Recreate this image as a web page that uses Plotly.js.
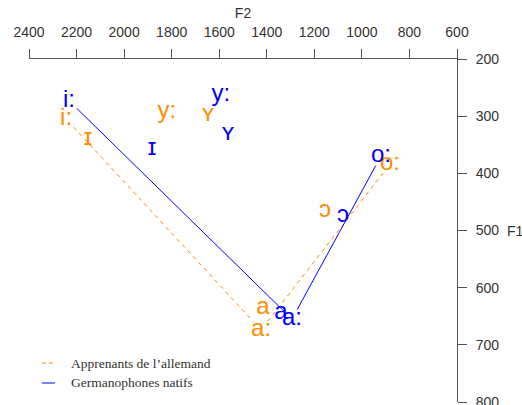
<!DOCTYPE html>
<html>
<head>
<meta charset="utf-8">
<script src="https://cdn.plot.ly/plotly-3.0.1.min.js"></script>
<style>
  html, body { margin: 0; padding: 0; background: #fff; }
  #graph { width: 522px; height: 405px; }
</style>
</head>
<body>
<div id="graph"></div>
<script>
// vowel chart, F2 on top (reversed), F1 on the right (reversed)
var vowels = ['i:', 'ɪ', 'y:', 'ʏ', 'a', 'a:', 'ɔ', 'o:'];
var learnerF2 = [2244, 2152, 1820, 1647, 1416, 1424, 1155, 882];
var learnerF1 = [305, 340, 293, 298, 636, 674, 466, 384];
var nativeF2 = [2232, 1883, 1593, 1563, 1340, 1294, 1079, 920];
var nativeF1 = [273, 357, 263, 331, 644, 655, 475, 370];
var pathVowels = ['i:', 'a:', 'o:'];
var xTicks = [2400, 2200, 2000, 1800, 1600, 1400, 1200, 1000, 800, 600];
var yTicks = [200, 300, 400, 500, 600, 700, 800];
var groupNames = ['Apprenants de l’allemand', 'Germanophones natifs'];

var W = 522, H = 405;
var margin = {l: 29, r: 65, t: 59, b: 3};
var xRange = [2400, 600], yRange = [800, 200];
var plotW = W - margin.l - margin.r, plotH = H - margin.t - margin.b;
var kx = plotW / (xRange[1] - xRange[0]);
var ky = plotH / (yRange[1] - yRange[0]);

// line through i:, a:, o: with a gap round each label (like type="b")
function gappedPath(f2, f1, gap) {
  var xs = [], ys = [];
  var idx = pathVowels.map(function(v){ return vowels.indexOf(v); });
  for (var s = 0; s < idx.length - 1; s++) {
    var x0 = f2[idx[s]], y0 = f1[idx[s]], x1 = f2[idx[s+1]], y1 = f1[idx[s+1]];
    var dx = (x1 - x0) * kx, dy = (y1 - y0) * ky;
    var len = Math.sqrt(dx*dx + dy*dy);
    var t = gap / len;
    xs.push(x0 + (x1 - x0) * t, x1 - (x1 - x0) * t, null);
    ys.push(y0 + (y1 - y0) * t, y1 - (y1 - y0) * t, null);
  }
  return {x: xs, y: ys};
}

var orange = '#ff8c00', blue = '#0000ff';
var lp = gappedPath(learnerF2, learnerF1, 11);
var np = gappedPath(nativeF2, nativeF1, 11);

var labelFont = {family: 'Liberation Sans, Arial, sans-serif', size: 24};

var traces = [
  {x: lp.x, y: lp.y, mode: 'lines', type: 'scatter', showlegend: false, hoverinfo: 'skip',
   line: {color: orange, width: 1, dash: '4px,4px'}},
  {x: np.x, y: np.y, mode: 'lines', type: 'scatter', showlegend: false, hoverinfo: 'skip',
   line: {color: blue, width: 1}},
  {x: learnerF2, y: learnerF1, text: vowels, mode: 'text', type: 'scatter', showlegend: false,
   textposition: 'middle center', cliponaxis: false,
   textfont: Object.assign({color: orange}, labelFont)},
  {x: nativeF2, y: nativeF1, text: vowels, mode: 'text', type: 'scatter', showlegend: false,
   textposition: 'middle center', cliponaxis: false,
   textfont: Object.assign({color: blue}, labelFont)}
];

var axisFont = {family: 'Liberation Sans, Arial, sans-serif', size: 14, color: '#333'};
var legFont = {family: 'Liberation Serif, DejaVu Serif, serif', size: 13.5, color: '#333'};

var layout = {
  width: W, height: H,
  margin: margin,
  paper_bgcolor: '#fff', plot_bgcolor: '#fff',
  showlegend: false,
  xaxis: {
    side: 'top', range: xRange, tickvals: xTicks,
    showgrid: false, zeroline: false, showline: true, linecolor: '#555', linewidth: 1,
    ticks: 'outside', ticklen: 9, tickcolor: '#555', tickfont: axisFont,
    ticklabelstandoff: 6, automargin: false,
    title: {text: 'F2', font: axisFont, standoff: 2}
  },
  yaxis: {
    side: 'right', range: yRange, tickvals: yTicks,
    showgrid: false, zeroline: false, showline: true, linecolor: '#555', linewidth: 1,
    ticks: 'outside', ticklen: 9, tickcolor: '#555', tickfont: axisFont,
    ticklabelstandoff: 6, automargin: false, ticklabeloverflow: 'allow'
  },
  shapes: [
    {type: 'line', xref: 'paper', yref: 'paper', x0: 0.0304, x1: 0.0607, y0: 0.1137, y1: 0.1137,
     line: {color: orange, width: 1, dash: '4px,3px'}},
    {type: 'line', xref: 'paper', yref: 'paper', x0: 0.0304, x1: 0.0607, y0: 0.0554, y1: 0.0554,
     line: {color: blue, width: 1}}
  ],
  annotations: [
    {text: 'F1', xref: 'paper', yref: 'y', x: 1, y: 500, xanchor: 'left', xshift: 48,
     showarrow: false, font: axisFont},
    {text: groupNames[0], xref: 'paper', yref: 'paper', x: 0.0935, y: 0.1137,
     xanchor: 'left', yanchor: 'middle', showarrow: false, font: legFont},
    {text: groupNames[1], xref: 'paper', yref: 'paper', x: 0.0935, y: 0.0554,
     xanchor: 'left', yanchor: 'middle', showarrow: false, font: legFont}
  ]
};

Plotly.newPlot('graph', traces, layout, {staticPlot: true});
</script>
</body>
</html>
